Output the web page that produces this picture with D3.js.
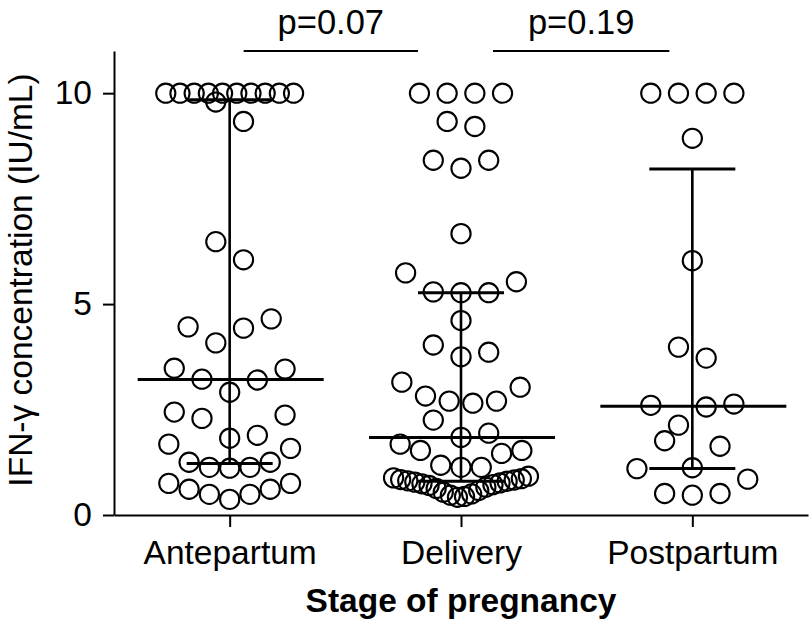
<!DOCTYPE html>
<html>
<head>
<meta charset="utf-8">
<script src="https://cdn.jsdelivr.net/npm/d3@7"></script>
<style>
body { margin: 0; background: #fff; }
text { font-family: "Liberation Sans", Arial, Helvetica, sans-serif; }
</style>
</head>
<body>
<script>
var stages = ["Antepartum", "Delivery", "Postpartum"];

// IFN-gamma values (IU/mL), 10 = upper limit of the assay
var antepartum = [0.37, 0.49, 0.49, 0.61, 0.61, 0.75, 0.75, 1.11, 1.13, 1.13,
	1.25, 1.25, 1.58, 1.68, 1.82, 1.89, 2.29, 2.37, 2.44, 2.91,
	3.20, 3.22, 3.46, 3.48, 4.08, 4.43, 4.46, 4.65, 6.05, 6.48,
	9.33, 9.79, 10, 10, 10, 10, 10, 10, 10, 10, 10, 10];

var delivery = [0.42, 0.44, 0.47, 0.50, 0.54, 0.58, 0.63, 0.66, 0.70, 0.72,
	0.74, 0.76, 0.78, 0.80, 0.81, 0.83, 0.84, 0.86, 0.88, 0.92,
	1.13, 1.13, 1.18, 1.46, 1.53, 1.53, 1.68, 1.84, 1.94, 2.25,
	2.65, 2.70, 2.70, 2.82, 3.03, 3.15, 3.75, 3.86, 4.03, 4.61,
	5.27, 5.27, 5.29, 5.53, 5.74, 6.67, 8.22, 8.41, 8.41, 9.21,
	9.33, 10, 10, 10, 10];

var postpartum = [0.47, 0.51, 0.51, 0.85, 1.10, 1.12, 1.63, 1.76, 2.13, 2.56,
	2.60, 2.63, 3.72, 3.98, 6.03, 8.93, 10, 10, 10, 10];

var groups = [antepartum, delivery, postpartum];

var yTicks = [0, 5, 10];
var pLabels = ["p=0.07", "p=0.19"];

var width = 811, height = 624;
var fontSize = 33.5;

var svg = d3.select("body").append("svg")
	.attr("width", width)
	.attr("height", height);

var x = d3.scalePoint()
	.domain(stages)
	.range([114, 808])
	.padding(0.5);

var y = d3.scaleLinear()
	.domain([0, 11])
	.range([515, 51]);

// quantile the way Prism does it, position (n+1)p
function quantile(sorted, p) {
	var n = sorted.length, h = (n + 1) * p, lo = Math.floor(h), f = h - lo;
	if (lo < 1) return sorted[0];
	if (lo >= n) return sorted[n - 1];
	return sorted[lo - 1] + f * (sorted[lo] - sorted[lo - 1]);
}

// row-based scatter layout: close values share a row, spread from the centre
var rowSpan = 0.645, maxStep = 27.7, rowWidth = 142;

function swarm(values, cx) {
	var sorted = values.slice().sort(d3.ascending);
	var rows = [], row = [];
	sorted.forEach(function(v) {
		if (row.length && v - row[0] > rowSpan) {
			rows.push(row);
			row = [];
		}
		row.push(v);
	});
	rows.push(row);

	var pts = [];
	rows.forEach(function(r) {
		var n = r.length;
		var step = Math.min(maxStep, rowWidth / n);
		var side = (n % 2 === 0 && (n / 2) % 2 === 0) ? -1 : 1;
		r.forEach(function(v, i) {
			var slot;
			if (n % 2) {
				slot = i === 0 ? 0 : Math.ceil(i / 2) * (i % 2 ? side : -side);
			} else {
				slot = (Math.floor(i / 2) + 0.5) * (i % 2 ? -side : side);
			}
			pts.push({ x: cx + slot * step, v: v });
		});
	});
	return pts;
}

// axes
var yAxis = svg.append("g")
	.attr("transform", "translate(114,0)")
	.call(d3.axisLeft(y).tickValues(yTicks).tickSize(11).tickPadding(11).tickSizeOuter(0));

var xAxis = svg.append("g")
	.attr("transform", "translate(0,515)")
	.call(d3.axisBottom(x).tickSize(12).tickPadding(13).tickSizeOuter(0));

[yAxis, xAxis].forEach(function(a) {
	a.selectAll("path, line")
		.attr("stroke", "#000")
		.attr("stroke-width", 2);
	a.selectAll("text")
		.attr("fill", "#000")
		.style("font-size", fontSize + "px");
});

// points
var pointG = svg.append("g");
groups.forEach(function(vals, gi) {
	pointG.selectAll(null)
		.data(swarm(vals, x(stages[gi])))
		.enter().append("circle")
		.attr("cx", function(d) { return d.x; })
		.attr("cy", function(d) { return y(d.v); })
		.attr("r", 9.6)
		.attr("fill", "none")
		.attr("stroke", "#000")
		.attr("stroke-width", 2.1);
});

// median with interquartile range
var barG = svg.append("g").attr("stroke", "#000");
groups.forEach(function(vals, gi) {
	var s = vals.slice().sort(d3.ascending);
	var cx = x(stages[gi]);
	var med = quantile(s, 0.5), q1 = quantile(s, 0.25), q3 = quantile(s, 0.75);

	barG.append("line")
		.attr("x1", cx).attr("x2", cx)
		.attr("y1", y(q1)).attr("y2", y(q3))
		.attr("stroke-width", 2.6);

	[q1, q3].forEach(function(q) {
		barG.append("line")
			.attr("x1", cx - 43).attr("x2", cx + 43)
			.attr("y1", y(q)).attr("y2", y(q))
			.attr("stroke-width", 3);
	});

	barG.append("line")
		.attr("x1", cx - 92).attr("x2", cx + 94)
		.attr("y1", y(med)).attr("y2", y(med))
		.attr("stroke-width", 3);
});

// p-value brackets between neighbouring stages
var brackets = [
	{ x1: x(stages[0]) + 14, x2: x(stages[1]) - 43 },
	{ x1: x(stages[1]) + 32, x2: x(stages[2]) - 23 }
];
brackets.forEach(function(b, i) {
	svg.append("line")
		.attr("x1", b.x1).attr("x2", b.x2)
		.attr("y1", 51).attr("y2", 51)
		.attr("stroke", "#000")
		.attr("stroke-width", 2);
	svg.append("text")
		.attr("x", (b.x1 + b.x2) / 2)
		.attr("y", 34)
		.attr("text-anchor", "middle")
		.style("font-size", "34.5px")
		.text(pLabels[i]);
});

// axis titles
svg.append("text")
	.attr("transform", "translate(32,280) rotate(-90)")
	.attr("text-anchor", "middle")
	.style("font-size", fontSize + "px")
	.text("IFN-\u03b3 concentration (IU/mL)");

svg.append("text")
	.attr("x", 461)
	.attr("y", 612)
	.attr("text-anchor", "middle")
	.style("font-size", fontSize + "px")
	.style("font-weight", "bold")
	.text("Stage of pregnancy");
</script>
</body>
</html>
